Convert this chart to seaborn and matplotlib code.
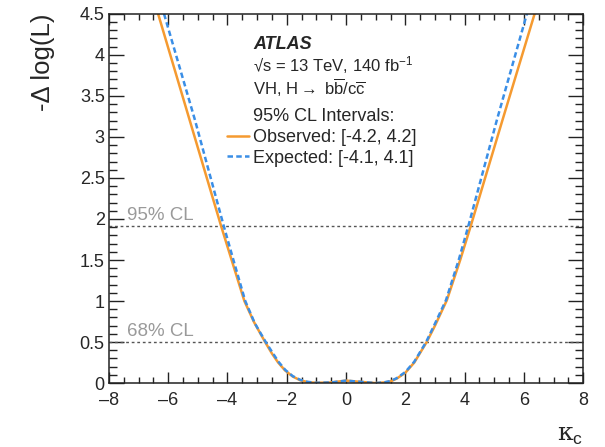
import numpy as np
import pandas as pd
import matplotlib
matplotlib.use("Agg")
import matplotlib.pyplot as plt
import seaborn as sns
from matplotlib.ticker import MultipleLocator

# values
kappa_obs = [-6.34, -5.28, -4.22, -3.86, -3.43, -3.1, -2.73, -2.5, -2.29, -2.06, -1.8,
             -1.55, -1.3, -1.0, -0.5, 0.0, 0.5, 1.0, 1.3, 1.5, 1.71, 2.0, 2.3, 2.72,
             3.0, 3.4, 3.85, 4.21, 5.28, 6.36]
nll_obs = [4.5, 3.21, 1.92, 1.5, 1.0, 0.74, 0.5, 0.36, 0.25, 0.155, 0.08,
           0.035, 0.012, 0.003, 0.008, 0.03, 0.015, 0.0, 0.008, 0.02, 0.055, 0.126, 0.25, 0.5,
           0.7, 1.01, 1.5, 1.92, 3.21, 4.5]

kappa_exp = [-6.14, -5.1, -4.13, -3.8, -3.4, -3.08, -2.71, -2.48, -2.28, -2.05, -1.8,
             -1.55, -1.3, -1.0, -0.5, 0.0, 0.5, 1.0, 1.3, 1.5, 1.71, 2.0, 2.3, 2.7,
             2.98, 3.37, 3.8, 4.13, 5.09, 6.1]
nll_exp = [4.5, 3.21, 1.92, 1.5, 1.0, 0.73, 0.5, 0.37, 0.26, 0.16, 0.085,
           0.04, 0.015, 0.003, 0.008, 0.03, 0.015, 0.0, 0.01, 0.025, 0.06, 0.135, 0.26, 0.5,
           0.71, 1.01, 1.5, 1.92, 3.21, 4.5]

cl_levels = [1.92, 0.5]
cl_labels = ["95% CL", "68% CL"]

x_ticks = [-8, -6, -4, -2, 0, 2, 4, 6, 8]
y_ticks = [0, 0.5, 1, 1.5, 2, 2.5, 3, 3.5, 4, 4.5]

obs_df = pd.DataFrame({"kappa": kappa_obs, "nll": nll_obs})
exp_df = pd.DataFrame({"kappa": kappa_exp, "nll": nll_exp})

sns.set_style("ticks")
plt.rcParams["font.family"] = ["Liberation Sans", "DejaVu Sans"]
plt.rcParams["mathtext.fontset"] = "custom"
plt.rcParams["mathtext.rm"] = "Liberation Sans"
plt.rcParams["mathtext.it"] = "Liberation Sans:italic"

fig = plt.figure(figsize=(6.05, 4.47), dpi=100)
ax = fig.add_axes([0.180, 0.143, 0.784, 0.826])

orange = "#f59a30"
blue = "#3a8ee6"

sns.lineplot(data=obs_df, x="kappa", y="nll", ax=ax, color=orange, lw=1.8,
             sort=False, label="Observed: [-4.2, 4.2]")
sns.lineplot(data=exp_df, x="kappa", y="nll", ax=ax, color=blue, lw=1.8,
             sort=False, linestyle=(0, (2.2, 1.3)), label="Expected: [-4.1, 4.1]")

for lvl, lab in zip(cl_levels, cl_labels):
    ax.axhline(lvl, color="#555555", lw=1, linestyle=(0, (2, 2)), zorder=1)
    ax.text(-7.4, lvl + 0.02, lab, color="#9a9a9a", fontsize=13.5, va="bottom")

ax.set_xlim(-8, 8)
ax.set_ylim(0, 4.5)
ax.set_xticks(x_ticks)
ax.set_xticklabels([str(v).replace("-", "\u2013") for v in x_ticks])
ax.set_yticks(y_ticks)
ax.set_yticklabels([f"{v:g}" for v in y_ticks])
ax.xaxis.set_minor_locator(MultipleLocator(0.5))
ax.yaxis.set_minor_locator(MultipleLocator(0.1))
ax.tick_params(which="both", direction="in", top=True, right=True, labelsize=13,
               color="#222222", width=1, pad=3)
ax.tick_params(axis="x", which="major", length=8, pad=6.5)
ax.tick_params(axis="x", which="minor", length=4.3)
ax.tick_params(axis="y", which="major", length=11)
ax.tick_params(axis="y", which="minor", length=5.8)
for s in ax.spines.values():
    s.set_linewidth(1.1)
    s.set_color("#222222")

ax.set_xlabel("")
ax.set_ylabel("-\u0394 log(L)", fontsize=18.5, loc="top", labelpad=18)
fig.text(0.964, 0.025, "\u03ba$_{\\mathrm{c}}$", fontsize=18, ha="right", va="center",
         family=["DejaVu Serif"])

ax.text(0.304, 0.916, "ATLAS", transform=ax.transAxes, fontsize=13,
        fontweight="bold", fontstyle="italic", va="center")
ax.text(0.304, 0.862, "\u221As = 13 TeV, 140 fb$^{-1}$", transform=ax.transAxes,
        fontsize=12, va="center")
ax.text(0.304, 0.800, "VH, H$\\rightarrow$ b$\\overline{\\mathrm{b}}$/c$\\overline{\\mathrm{c}}$",
        transform=ax.transAxes, fontsize=12, va="center")
ax.text(0.304, 0.721, "95% CL Intervals:", transform=ax.transAxes, fontsize=13, va="center")

ax.legend(loc="upper left", bbox_to_anchor=(0.249, 0.688), frameon=False, fontsize=13,
          handlelength=1.2, handletextpad=0.25, labelspacing=0.2, borderpad=0,
          borderaxespad=0)

fig.savefig("out.png", dpi=100)
